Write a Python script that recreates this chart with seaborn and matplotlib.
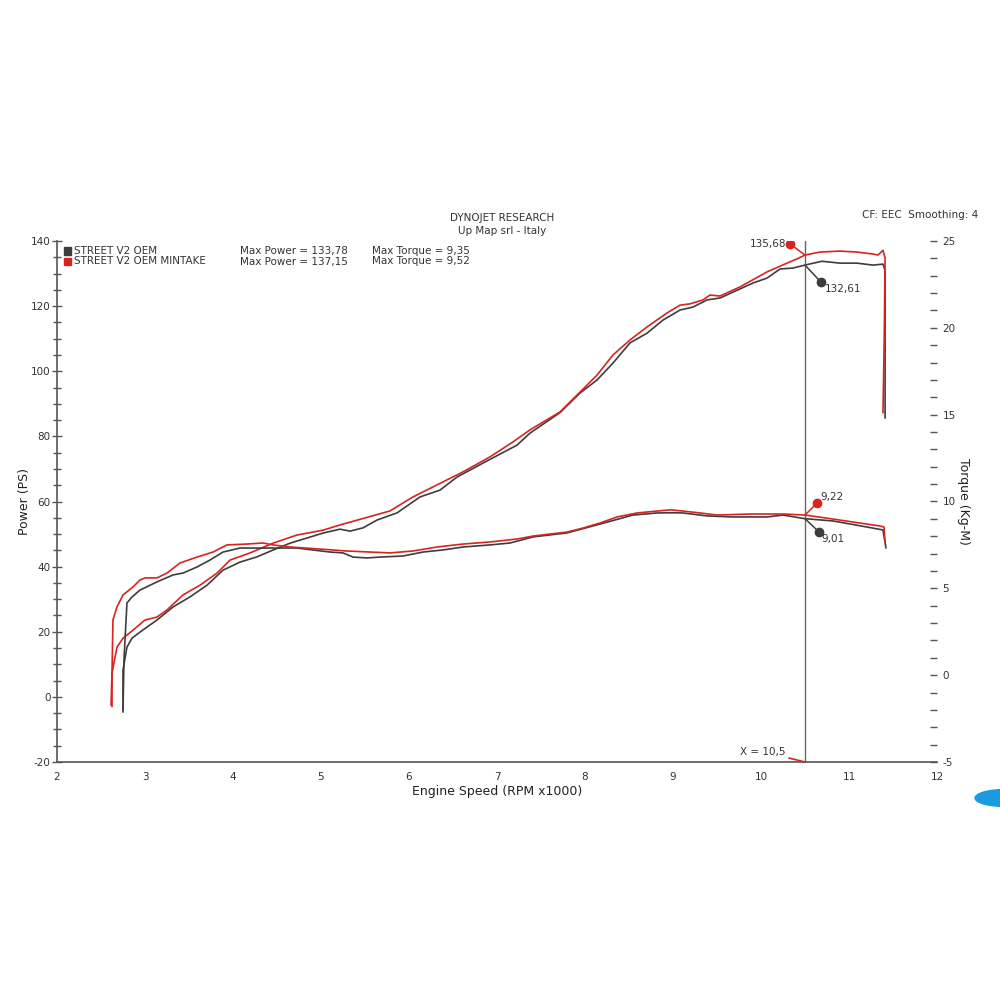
import pandas as pd
import matplotlib.pyplot as plt
import seaborn as sns
from matplotlib.patches import Ellipse, Rectangle
from matplotlib.ticker import MultipleLocator

# --- data ---
red_power_rpm = [2.625, 2.625, 2.682, 2.75, 2.864, 3.0, 3.136, 3.25, 3.432, 3.625, 3.818, 3.966,
                 4.193, 4.455, 4.727, 5.023, 5.216, 5.295, 5.784, 6.045, 6.318, 6.614, 6.92,
                 7.182, 7.375, 7.716, 7.943, 8.136, 8.318, 8.511, 8.705, 8.932, 9.08, 9.193,
                 9.341, 9.42, 9.534, 9.761, 10.068, 10.295, 10.409, 10.5, 10.67, 10.898, 11.09,
                 11.273, 11.33, 11.386, 11.41, 11.40, 11.386]
red_power = [-3, 7.3, 15.3, 18, 20.5, 23.6, 24.5, 26.7, 31.3, 34.3, 38, 42,
             44.2, 47.2, 49.7, 51.2, 52.8, 53.4, 57.1, 61.4, 65.1, 69.1, 73.7,
             78.3, 82, 87.5, 93.6, 98.8, 105, 109.6, 113.6, 117.9, 120.3, 120.7,
             121.9, 123.4, 123.1, 125.9, 130.5, 133.2, 134.5, 135.68, 136.6, 136.9, 136.6,
             136, 135.7, 137.15, 134.8, 109.6, 87.2]

black_power_rpm = [2.75, 2.75, 2.75, 2.795, 2.852, 2.943, 3.136, 3.318, 3.511, 3.705, 3.886,
                   4.08, 4.273, 4.455, 4.648, 5.023, 5.216, 5.33, 5.477, 5.636, 5.864, 6.125,
                   6.352, 6.545, 6.841, 7.227, 7.375, 7.716, 7.943, 8.136, 8.318, 8.511, 8.705,
                   8.886, 9.08, 9.227, 9.386, 9.534, 9.682, 9.909, 10.068, 10.216, 10.364,
                   10.5, 10.693, 10.898, 11.09, 11.273, 11.386, 11.41, 11.41]
black_power = [-4.7, -1, 8.2, 15.3, 18, 19.9, 23.6, 27.6, 30.7, 34.3, 38.9,
               41.4, 43, 45.1, 47.2, 50.3, 51.5, 50.9, 51.9, 54.3, 56.5, 61.4,
               63.5, 67.5, 71.8, 77.3, 81, 87.3, 93.3, 97.3, 102.5, 108.7, 111.7,
               115.7, 118.8, 119.7, 121.9, 122.5, 124.3, 127.1, 128.6, 131.4, 131.7,
               132.61, 133.78, 133.2, 133.2, 132.6, 132.9, 131, 85.6]

red_torque_rpm = [2.614, 2.625, 2.636, 2.682, 2.75, 2.864, 2.943, 3.0, 3.136, 3.25, 3.398,
                  3.591, 3.773, 3.932, 4.159, 4.341, 4.455, 4.648, 5.023, 5.295, 5.557,
                  5.784, 6.045, 6.318, 6.614, 6.92, 7.227, 7.409, 7.795, 7.977, 8.17, 8.364,
                  8.591, 8.818, 8.97, 9.114, 9.307, 9.5, 9.875, 10.25, 10.5, 10.818, 11.205,
                  11.352, 11.398, 11.41]
red_torque = [-1.72, 0.13, 3.18, 3.93, 4.62, 5.08, 5.48, 5.60, 5.60, 5.88, 6.46,
              6.80, 7.09, 7.50, 7.55, 7.61, 7.50, 7.38, 7.25, 7.15, 7.09,
              7.04, 7.15, 7.38, 7.55, 7.67, 7.84, 8.01, 8.24, 8.47, 8.76, 9.11,
              9.34, 9.45, 9.52, 9.45, 9.34, 9.22, 9.28, 9.28, 9.22, 8.99, 8.70,
              8.59, 8.53, 7.67]

black_torque_rpm = [2.75, 2.761, 2.795, 2.852, 2.943, 3.136, 3.318, 3.432, 3.591, 3.739,
                    3.886, 4.08, 4.273, 4.455, 4.727, 5.102, 5.25, 5.364, 5.523, 5.67,
                    5.932, 6.159, 6.386, 6.614, 6.92, 7.148, 7.409, 7.795, 8.17, 8.545,
                    8.818, 9.0, 9.114, 9.386, 9.682, 10.068, 10.25, 10.5, 10.818, 11.205,
                    11.386, 11.42]
black_torque = [-2.0, 0.87, 4.16, 4.50, 4.90, 5.37, 5.77, 5.88, 6.23, 6.63,
                7.09, 7.32, 7.32, 7.32, 7.32, 7.09, 7.04, 6.80, 6.75, 6.80,
                6.86, 7.09, 7.21, 7.38, 7.50, 7.61, 7.96, 8.19, 8.70, 9.22,
                9.34, 9.35, 9.34, 9.17, 9.11, 9.11, 9.22, 9.01, 8.88, 8.53,
                8.36, 7.32]

legend_names = ['STREET V2 OEM', 'STREET V2 OEM MINTAKE']
legend_power = ['Max Power = 133,78', 'Max Power = 137,15']
legend_torque = ['Max Torque = 9,35', 'Max Torque = 9,52']

RED = "#d8231f"
DARK = "#3d3d3d"
GREY = "#555555"
TXT = "#333333"

sns.set_style("white")
plt.rcParams['font.family'] = ['DejaVu Sans']
plt.rcParams['axes.unicode_minus'] = False

fig = plt.figure(figsize=(10, 10), dpi=100)
ax = fig.add_axes([0.057, 0.238, 0.88, 0.521])
ax2 = ax.twinx()

# power curves (left axis)
sns.lineplot(x=black_power_rpm, y=black_power, sort=False, estimator=None,
             color=DARK, lw=1.2, ax=ax)
sns.lineplot(x=red_power_rpm, y=red_power, sort=False, estimator=None,
             color=RED, lw=1.2, ax=ax)
# torque curves (right axis)
sns.lineplot(x=black_torque_rpm, y=black_torque, sort=False, estimator=None,
             color=DARK, lw=1.2, ax=ax2)
sns.lineplot(x=red_torque_rpm, y=red_torque, sort=False, estimator=None,
             color=RED, lw=1.2, ax=ax2)

ax.set_xlim(2, 12)
ax.set_ylim(-20, 140)
ax2.set_ylim(-5, 25)

# axes styling
for a in (ax, ax2):
    for s in ('top', 'right'):
        a.spines[s].set_visible(False)
ax2.spines['left'].set_visible(False)
ax2.spines['bottom'].set_visible(False)
for s in ('left', 'bottom'):
    ax.spines[s].set_color(GREY)
    ax.spines[s].set_linewidth(1.2)

ax.xaxis.set_major_locator(MultipleLocator(1))
ax.xaxis.set_minor_locator(MultipleLocator(0.2))
ax.yaxis.set_major_locator(MultipleLocator(20))
ax.yaxis.set_minor_locator(MultipleLocator(5))
ax2.yaxis.set_major_locator(MultipleLocator(5))
ax2.yaxis.set_minor_locator(MultipleLocator(1))

ax.tick_params(which='both', direction='inout', color=GREY, width=1,
               labelsize=7.5, labelcolor=TXT)
ax.tick_params(which='major', length=7)
ax.tick_params(which='minor', length=6)
ax.tick_params(axis='y', pad=1)
ax2.tick_params(which='both', direction='in', color=GREY, width=1, length=5,
                labelsize=7.5, labelcolor=TXT, pad=4)

ax.set_xlabel('Engine Speed (RPM x1000)', fontsize=9, color='#222222', labelpad=2)
ax.set_ylabel('Power (PS)', fontsize=9, color='#222222', labelpad=0)
ax2.set_ylabel('Torque (Kg-M)', fontsize=9, color='#222222', rotation=270, labelpad=10)

# cursor line at 10.5
ax.axvline(10.5, color='#666666', lw=1)
ax.annotate('X = 10,5', xy=(10.5, -20), xytext=(10.28, -16.8), ha='right', va='center',
            fontsize=7.5, color=TXT,
            arrowprops=dict(arrowstyle='-', color=RED, lw=1.2, shrinkA=0, shrinkB=0))


# value markers at the cursor
def marker(axis, xy, dot, color):
    axis.annotate('', xy=xy, xytext=dot,
                  arrowprops=dict(arrowstyle='-', color=color, lw=1.1, shrinkA=0, shrinkB=0))
    axis.plot(*dot, 'o', color=color, ms=6)


marker(ax, (10.5, 135.68), (10.33, 139.1), RED)
ax.text(10.29, 139.1, '135,68', ha='right', va='center', fontsize=7.5, color=TXT)
marker(ax, (10.5, 132.61), (10.68, 127.4), DARK)
ax.text(10.72, 125.4, '132,61', ha='left', va='center', fontsize=7.5, color=TXT)
marker(ax2, (10.5, 9.22), (10.636, 9.91), RED)
ax2.text(10.67, 10.26, '9,22', ha='left', va='center', fontsize=7.5, color=TXT)
marker(ax2, (10.5, 9.01), (10.66, 8.24), DARK)
ax2.text(10.69, 7.84, '9,01', ha='left', va='center', fontsize=7.5, color=TXT)

# header texts
fig.text(0.502, 0.782, 'DYNOJET RESEARCH', ha='center', va='center', fontsize=7.5, color=TXT)
fig.text(0.502, 0.769, 'Up Map srl - Italy', ha='center', va='center', fontsize=7.5, color=TXT)
fig.text(0.978, 0.785, 'CF: EEC  Smoothing: 4', ha='right', va='center', fontsize=7.5, color=TXT)

# legend block
for i, (name, mp, mt, c) in enumerate(zip(legend_names, legend_power, legend_torque, [DARK, RED])):
    y = 0.749 - i * 0.0105
    fig.patches.append(Rectangle((0.0635, y - 0.0037), 0.0072, 0.0074,
                                 transform=fig.transFigure, color=c))
    fig.text(0.0735, y, name, ha='left', va='center', fontsize=7.5, color=TXT)
    fig.text(0.240, y, mp, ha='left', va='center', fontsize=7.5, color=TXT)
    fig.text(0.372, y, mt, ha='left', va='center', fontsize=7.5, color=TXT)

# partial blue widget bubble at the right edge
fig.patches.append(Ellipse((1.005, 0.202), 0.06, 0.017, transform=fig.transFigure,
                           color='#1a9be0', zorder=5))

plt.savefig('out.png', dpi=100)
